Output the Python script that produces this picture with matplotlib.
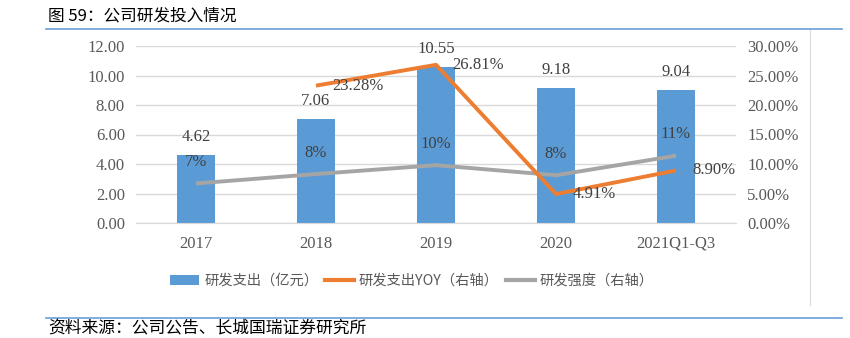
import matplotlib
matplotlib.use("Agg")
import matplotlib.pyplot as plt
from matplotlib.lines import Line2D
from matplotlib.patches import Patch
import numpy as np

categories = ["2017", "2018", "2019", "2020", "2021Q1-Q3"]
rd_spend = [4.62, 7.06, 10.55, 9.18, 9.04]
rd_yoy = [np.nan, 23.28, 26.81, 4.91, 8.90]
rd_intensity = [6.7, 8.3, 9.8, 8.1, 11.4]
left_ticks = [0, 2, 4, 6, 8, 10, 12]
right_ticks = [0, 5, 10, 15, 20, 25, 30]

BLUE = "#5B9BD5"
ORANGE = "#ED7D31"
GRAY = "#A5A5A5"
TXT = "#404040"
TICK = "#595959"
SERIF = ["Liberation Serif", "DejaVu Serif"]
CJK = ["Noto Sans CJK SC", "DejaVu Sans"]
FS = 12

plt.rcParams["font.family"] = CJK

fig = plt.figure(figsize=(8.5, 3.38), dpi=100)
W, H = 850, 338
ax = fig.add_axes([136 / W, 1 - 223 / H, 600 / W, 177 / H])
ax2 = ax.twinx()

x = np.arange(len(categories))
ax.bar(x, rd_spend, width=0.31, color=BLUE, zorder=2)
ax.set_xlim(-0.5, len(categories) - 0.5)
ax.set_ylim(0, 12)
ax.set_yticks(left_ticks)
ax.set_yticklabels([f"{v:.2f}" for v in left_ticks], family=SERIF, fontsize=FS, color=TICK)
ax.set_xticks(x)
ax.set_xticklabels(categories, family=SERIF, fontsize=FS, color=TICK)
ax.grid(axis="y", color="#D9D9D9", linewidth=1, zorder=0)
ax.set_axisbelow(True)
ax.tick_params(length=0, pad=8)
ax.tick_params(axis="x", pad=9)
for s in ["top", "right", "left"]:
    ax.spines[s].set_visible(False)
ax.spines["bottom"].set_color("#D9D9D9")

for xi, v in zip(x, rd_spend):
    ax.annotate(f"{v:.2f}", (xi, v), xytext=(0, 13), textcoords="offset points",
                ha="center", va="center", family=SERIF, fontsize=FS, color=TXT)

ax2.set_ylim(0, 30)
ax2.set_yticks(right_ticks)
ax2.set_yticklabels([f"{v:.2f}%" for v in right_ticks], family=SERIF, fontsize=FS, color=TICK)
ax2.tick_params(length=0, pad=8)
for s in ["top", "right", "left", "bottom"]:
    ax2.spines[s].set_visible(False)

ax2.plot(x, rd_yoy, color=ORANGE, linewidth=2.8, zorder=4, solid_capstyle="butt")
ax2.plot(x, rd_intensity, color=GRAY, linewidth=2.8, zorder=3, solid_capstyle="butt")

for xi, v in zip(x, rd_yoy):
    if np.isnan(v):
        continue
    ax2.annotate(f"{v:.2f}%", (xi, v), xytext=(12, 0), textcoords="offset points",
                 ha="left", va="center", family=SERIF, fontsize=FS, color=TXT, zorder=6)
for xi, v in zip(x, rd_intensity):
    ax2.annotate(f"{v:.0f}%", (xi, v), xytext=(0, 15.5), textcoords="offset points",
                 ha="center", va="center", family=SERIF, fontsize=FS, color=TXT, zorder=6)

handles = [Patch(facecolor=BLUE, edgecolor="none"),
           Line2D([], [], color=ORANGE, linewidth=3),
           Line2D([], [], color=GRAY, linewidth=3)]
labels = ["研发支出（亿元）", "研发支出YOY（右轴）", "研发强度（右轴）"]
leg = fig.legend(handles, labels, loc="center", bbox_to_anchor=(412 / W, 1 - 281 / H),
                 ncol=3, frameon=False, prop={"family": CJK, "size": 10.3},
                 handlelength=2.0, handleheight=0.75, handletextpad=0.35, columnspacing=0.5,
                 labelcolor=TICK)

# title, rules, source
fig.text(48 / W, 1 - 16 / H, "图 59：公司研发投入情况", ha="left", va="center",
         fontsize=12, color="black", family=CJK)
fig.add_artist(Line2D([46 / W, 842 / W], [1 - 29 / H, 1 - 29 / H], color="#6A9FD8", linewidth=1.2))
fig.add_artist(Line2D([810 / W, 810 / W], [1 - 30 / H, 1 - 305 / H], color="#D9D9D9", linewidth=0.8))
fig.add_artist(Line2D([46 / W, 842 / W], [1 - 318 / H, 1 - 318 / H], color="#6A9FD8", linewidth=1.2))
fig.text(48 / W, 1 - 329 / H, "资料来源：公司公告、长城国瑞证券研究所", ha="left", va="center",
         fontsize=12.1, color="black", family=CJK)

fig.savefig("out.png", dpi=100)
